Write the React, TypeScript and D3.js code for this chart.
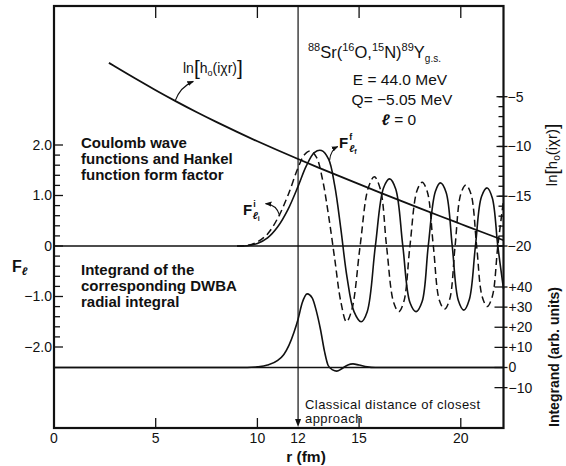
import React from "react";
import * as d3 from "d3";

// r axis (fm)
const rTickValues = [5, 10, 15, 20];
const rLabelValues = [0, 5, 10, 12, 15, 20];

// left axis: F_l
const fMajorTicks = [-2, -1, 0, 1, 2];
const fMajorLabels = ["−2.0", "−1.0", "0", "1.0", "2.0"];
const fMinorTicks = [-1.8, -1.6, -1.4, -1.2, -0.8, -0.6, -0.4, -0.2, 0.2, 0.4, 0.6, 0.8, 1.2, 1.4, 1.6, 1.8];

// right axis, upper part: ln[h0(i chi r)]
const lnTickValues = [-5, -6, -7, -8, -9, -10, -11, -12, -13, -14, -15, -16, -17, -18, -19, -20];
const lnMajorTicks = [-5, -10, -15, -20];
const lnMajorLabels = ["−5", "−10", "−15", "−20"];

// right axis, lower part: integrand (arb. units)
const intTickValues = [-10, 0, 10, 20, 30, 40];
const intTickLabels = ["−10", "0", "+10", "+20", "+30", "+40"];

// ln[h0(i chi r)] versus r
const lnR = [2.7, 3, 4, 5, 6, 7, 8, 9, 10, 11, 12, 13, 14, 15, 16, 17, 18, 19, 20, 21, 22.1];
const lnH = [-1.6, -1.97, -3.18, -4.35, -5.47, -6.54, -7.56, -8.54, -9.48, -10.38, -11.26, -12.12, -12.96, -13.79, -14.61, -15.42, -16.22, -17.01, -17.79, -18.57, -19.42];

// Coulomb wave function, initial channel (dashed)
const fInitialR = [9.0, 9.5, 10.0, 10.5, 11.0, 11.5, 12.0, 12.3, 12.6, 12.9, 13.2, 13.5, 13.8, 14.1, 14.38, 14.65, 15.05, 15.45, 15.75, 16.05, 16.35, 16.7, 16.95, 17.2, 17.5, 17.85, 18.1, 18.35, 18.65, 18.95, 19.2, 19.45, 19.72, 20.0, 20.25, 20.5, 20.78, 21.05, 21.3, 21.55, 21.82, 22.1];
const fInitialF = [0, 0.01, 0.08, 0.24, 0.55, 1.0, 1.55, 1.8, 1.88, 1.76, 1.32, 0.6, -0.25, -1.1, -1.5, -1.25, 0, 1.15, 1.37, 1.12, 0, -1.12, -1.3, -1.1, 0, 1.1, 1.26, 1.08, 0, -1.08, -1.25, -1.06, 0, 1.03, 1.21, 1.03, 0, -1.0, -1.2, -1.0, 0, 0.9];

// Coulomb wave function, final channel (solid)
const fFinalR = [9.0, 9.5, 10.0, 10.5, 11.0, 11.5, 12.0, 12.4, 12.8, 13.15, 13.5, 13.8, 14.1, 14.4, 14.75, 15.1, 15.4, 15.8, 16.2, 16.5, 16.8, 17.15, 17.5, 17.8, 18.1, 18.4, 18.75, 19.0, 19.28, 19.58, 19.88, 20.15, 20.42, 20.72, 21.02, 21.3, 21.55, 21.82, 22.1];
const fFinalF = [0, 0.005, 0.05, 0.16, 0.38, 0.72, 1.18, 1.58, 1.85, 1.89, 1.72, 1.2, 0.35, -0.6, -1.3, -1.5, -1.3, 0, 1.15, 1.33, 1.13, 0, -1.12, -1.3, -1.1, 0, 1.08, 1.25, 1.06, 0, -1.08, -1.27, -1.06, 0, 0.98, 1.15, 0.95, 0, -0.85];

// integrand of the DWBA radial integral
const intR = [0, 9.5, 10.0, 10.5, 11.0, 11.3, 11.55, 11.8, 12.0, 12.2, 12.45, 12.7, 12.9, 13.1, 13.3, 13.48, 13.7, 13.9, 14.15, 14.45, 14.7, 15.0, 15.4, 15.8, 22.1];
const intV = [0, 0, 0.3, 1.2, 3.5, 6.5, 11, 17.5, 24, 32, 36.6, 34.5, 28, 19, 8, 1, -1.2, -1.8, -0.6, 1.3, 1.8, 1.2, 0.3, 0, 0];

const W = 566;
const H = 466;
const LEFT = 54;
const RIGHT = 503.5;
const TOP = 6;
const BOTTOM = 428;

const x = d3.scaleLinear().domain([0, 22.1]).range([LEFT, RIGHT]);
const yF = d3.scaleLinear().domain([0, 2]).range([246, 145]);
const yLn = d3.scaleLinear().domain([-20, -5]).range([246, 96.7]);
const yInt = d3.scaleLinear().domain([0, 40]).range([367.5, 287]);

const zip = (a: number[], b: number[]) => a.map((v, i) => [v, b[i]] as [number, number]);

const waveLine = d3
  .line<[number, number]>()
  .x((d) => x(d[0]))
  .y((d) => yF(d[1]))
  .curve(d3.curveCatmullRom.alpha(0.5));

const lnLine = d3
  .line<[number, number]>()
  .x((d) => x(d[0]))
  .y((d) => yLn(d[1]))
  .curve(d3.curveCatmullRom.alpha(0.5));

const intLine = d3
  .line<[number, number]>()
  .x((d) => x(d[0]))
  .y((d) => yInt(d[1]))
  .curve(d3.curveMonotoneX);

const FONT = "'Liberation Sans', Arial, sans-serif";
const INK = "#111";

export default function App() {
  const ticksStroke = { stroke: INK, strokeWidth: 1.3 };
  return (
    <svg
      width={W}
      height={H}
      viewBox={`0 0 ${W} ${H}`}
      style={{ position: "absolute", left: 0, top: 0, background: "#fff" }}
      fontFamily={FONT}
      fill={INK}
    >
      <defs>
        <marker id="head" viewBox="0 0 10 10" refX="9" refY="5" markerWidth="6" markerHeight="6" orient="auto">
          <path d="M0,1 L10,5 L0,9 z" fill={INK} />
        </marker>
      </defs>

      {/* frame */}
      <rect x={LEFT} y={TOP} width={RIGHT - LEFT} height={BOTTOM - TOP} fill="none" stroke={INK} strokeWidth={2.2} />

      {/* bottom and top r ticks */}
      {rTickValues.map((v) => (
        <g key={"rt" + v}>
          <line x1={x(v)} x2={x(v)} y1={BOTTOM} y2={BOTTOM - 10} {...ticksStroke} />
          <line x1={x(v)} x2={x(v)} y1={TOP} y2={TOP + 12} {...ticksStroke} />
        </g>
      ))}
      {rLabelValues.map((v) => (
        <text key={"rl" + v} x={x(v)} y={443} fontSize={14} textAnchor="middle">
          {v}
        </text>
      ))}
      <text x={306} y={462} fontSize={15.5} fontWeight="bold" textAnchor="middle">
        r (fm)
      </text>

      {/* left F ticks */}
      {fMajorTicks.map((v, i) => (
        <g key={"fm" + v}>
          <line x1={LEFT} x2={LEFT + 9} y1={yF(v)} y2={yF(v)} {...ticksStroke} />
          <text x={LEFT - 2} y={yF(v)} dy="0.35em" fontSize={14} textAnchor="end">
            {fMajorLabels[i]}
          </text>
        </g>
      ))}
      {fMinorTicks.map((v) => (
        <line key={"fn" + v} x1={LEFT} x2={LEFT + 6} y1={yF(v)} y2={yF(v)} {...ticksStroke} />
      ))}
      <text x={12} y={272} fontSize={16} fontWeight="bold">
        F
        <tspan fontSize={11} dy={3} fontStyle="italic">
          ℓ
        </tspan>
      </text>

      {/* right ln ticks */}
      {lnTickValues.map((v) => (
        <line key={"ln" + v} x1={RIGHT - 5} x2={RIGHT} y1={yLn(v)} y2={yLn(v)} {...ticksStroke} />
      ))}
      {lnMajorTicks.map((v, i) => (
        <g key={"lnm" + v}>
          <line x1={RIGHT - 7} x2={RIGHT + 4} y1={yLn(v)} y2={yLn(v)} {...ticksStroke} />
          <text x={RIGHT + 4} y={yLn(v)} dy="0.35em" fontSize={14}>
            {lnMajorLabels[i]}
          </text>
        </g>
      ))}

      {/* right integrand ticks */}
      {intTickValues.map((v, i) => (
        <g key={"it" + v}>
          <line x1={RIGHT - 9} x2={RIGHT + 4} y1={yInt(v)} y2={yInt(v)} {...ticksStroke} />
          <text x={RIGHT + 5} y={yInt(v)} dy="0.35em" fontSize={14}>
            {intTickLabels[i]}
          </text>
        </g>
      ))}

      {/* right axis titles */}
      <text transform="translate(557,155) rotate(-90)" fontSize={15} textAnchor="middle">
        ln
        <tspan fontSize={19} dy={1}>[</tspan>
        <tspan dy={-1}>h</tspan>
        <tspan fontSize={10} dy={3}>o</tspan>
        <tspan dy={-3}>(iχr)</tspan>
        <tspan fontSize={19} dy={1}>]</tspan>
      </text>
      <text transform="translate(559,357) rotate(-90)" fontSize={14} fontWeight="bold" textAnchor="middle">
        Integrand (arb. units)
      </text>

      {/* reference lines */}
      <line x1={LEFT} x2={RIGHT} y1={yF(0)} y2={yF(0)} stroke={INK} strokeWidth={1.3} />
      <line x1={LEFT} x2={RIGHT} y1={yInt(0)} y2={yInt(0)} stroke={INK} strokeWidth={1.3} />

      {/* classical distance of closest approach */}
      <line x1={x(12)} x2={x(12)} y1={TOP} y2={BOTTOM - 8} stroke={INK} strokeWidth={1.2} />
      <path
        d={`M${x(12) - 3},${BOTTOM - 9} L${x(12) + 3},${BOTTOM - 9} L${x(12)},${BOTTOM - 1} z`}
        fill={INK}
      />
      <g fontSize={13} letterSpacing={0.45}>
        <text x={305} y={409}>
          Classical distance of closest
        </text>
        <text x={305} y={423}>
          approach
        </text>
      </g>

      {/* curves */}
      <path d={lnLine(zip(lnR, lnH)) ?? ""} fill="none" stroke={INK} strokeWidth={1.8} />
      <path d={waveLine(zip(fInitialR, fInitialF)) ?? ""} fill="none" stroke={INK} strokeWidth={1.5} strokeDasharray="7,4" />
      <path d={waveLine(zip(fFinalR, fFinalF)) ?? ""} fill="none" stroke={INK} strokeWidth={1.6} />
      <path d={intLine(zip(intR, intV)) ?? ""} fill="none" stroke={INK} strokeWidth={1.6} />

      {/* curve labels */}
      <text x={183} y={73} fontSize={14}>
        ln
        <tspan fontSize={21} dy={2}>[</tspan>
        <tspan dy={-2}>h</tspan>
        <tspan fontSize={9} dy={3}>o</tspan>
        <tspan dy={-3}>(iχr)</tspan>
        <tspan fontSize={21} dy={2}>]</tspan>
      </text>
      <path
        d={`M${x(5.95)},${yLn(-5.45)} Q${x(6.2)},${yF(3.15)} ${x(6.85)},${yF(3.26)}`}
        fill="none"
        stroke={INK}
        strokeWidth={1.1}
        markerEnd="url(#head)"
      />

      <text x={243} y={215} fontSize={15} fontWeight="bold">
        F
        <tspan fontSize={9} dx={1} dy={-8}>i</tspan>
        <tspan fontSize={10} dx={-3} dy={12} fontStyle="italic">ℓ</tspan>
        <tspan fontSize={7} dy={2}>i</tspan>
      </text>
      <path
        d={`M${x(11.1)},${yF(0.6)} Q${x(10.95)},${yF(0.82)} ${x(10.4)},${yF(0.84)}`}
        fill="none"
        stroke={INK}
        strokeWidth={1.1}
        markerEnd="url(#head)"
      />

      <text x={339} y={148} fontSize={15} fontWeight="bold">
        F
        <tspan fontSize={9} dx={1} dy={-8}>f</tspan>
        <tspan fontSize={10} dx={-3} dy={12} fontStyle="italic">ℓ</tspan>
        <tspan fontSize={7} dy={2}>f</tspan>
      </text>
      <path
        d={`M${x(13.55)},${yF(1.7)} Q${x(13.6)},${yF(1.9)} ${x(13.95)},${yF(1.97)}`}
        fill="none"
        stroke={INK}
        strokeWidth={1.1}
        markerEnd="url(#head)"
      />

      {/* panel descriptions */}
      <g fontSize={15} fontWeight="bold">
        <text x={81} y={148}>Coulomb wave</text>
        <text x={81} y={164}>functions and Hankel</text>
        <text x={81} y={180}>function form factor</text>
        <text x={81} y={275}>Integrand of the</text>
        <text x={81} y={291}>corresponding DWBA</text>
        <text x={81} y={307}>radial integral</text>
      </g>

      {/* reaction and kinematics */}
      <text x={308} y={58} fontSize={16.5}>
        <tspan fontSize={11} dy={-7}>88</tspan>
        <tspan dy={7}>Sr(</tspan>
        <tspan fontSize={11} dy={-7}>16</tspan>
        <tspan dy={7}>O,</tspan>
        <tspan fontSize={11} dy={-7}>15</tspan>
        <tspan dy={7}>N)</tspan>
        <tspan fontSize={11} dy={-7}>89</tspan>
        <tspan dy={7}>Y</tspan>
        <tspan fontSize={10} dy={4}>g.s.</tspan>
      </text>
      <g fontSize={15.5} textAnchor="middle">
        <text x={400} y={85}>E = 44.0 MeV</text>
        <text x={402} y={105}>Q= −5.05 MeV</text>
        <text x={399} y={125}>
          <tspan fontWeight="bold" fontStyle="italic">ℓ</tspan> = 0
        </text>
      </g>
    </svg>
  );
}
